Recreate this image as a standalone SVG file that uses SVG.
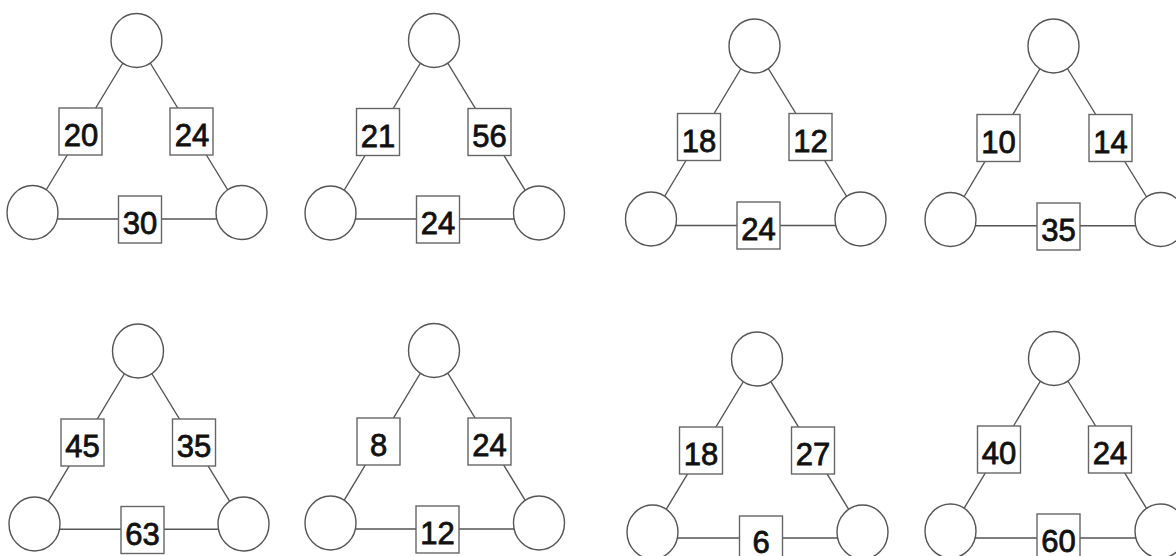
<svg xmlns="http://www.w3.org/2000/svg" width="1176" height="556" viewBox="0 0 1176 556">
<style>
.c{fill:#fff;stroke:#555;stroke-width:1.4}
.b{fill:#fff;stroke:#666;stroke-width:1.4}
.e{stroke:#555;stroke-width:1.4;fill:none}
.t{font-family:"Liberation Sans",Arial,sans-serif;font-size:31px;fill:#111;stroke:#111;stroke-width:0.8;text-anchor:middle}
</style>
<rect width="1176" height="556" fill="#fff"/>
<g id="connectors">
<path class="e" d="M136.5 40.5L32.5 212.5M136.5 40.5L241.5 212.5M32.5 219H241.5"/>
<path class="e" d="M434 40.5L330.5 213M434 40.5L539 213M330.5 219H539"/>
<path class="e" d="M754.5 46L651 219M754.5 46L860.5 219M651 225.5H860.5"/>
<path class="e" d="M1053.5 46L950.5 219.5M1053.5 46L1160.5 219.5M950.5 225.7H1160.5"/>
<path class="e" d="M138 351L34.5 524M138 351L243.5 524M34.5 529.3H243.5"/>
<path class="e" d="M434 350.5L330.5 523M434 350.5L539 523M330.5 529H539"/>
<path class="e" d="M757 359L652.5 532M757 359L862.5 532M652.5 538H862.5"/>
<path class="e" d="M1054 358.5L950.5 531M1054 358.5L1160.5 531M950.5 538H1160.5"/>
</g>
<g id="t1">
<ellipse class="c" cx="136.5" cy="40.5" rx="25.5" ry="27"/>
<ellipse class="c" cx="32.5" cy="212.5" rx="25.5" ry="27"/>
<ellipse class="c" cx="241.5" cy="212.5" rx="25.5" ry="27"/>
<rect class="b" x="59" y="108" width="43" height="47"/><text class="t" x="81" y="146">20</text>
<rect class="b" x="170" y="108" width="43" height="47"/><text class="t" x="192" y="146">24</text>
<rect class="b" x="118.5" y="196" width="43" height="47"/><text class="t" x="140" y="234">30</text>
</g>
<g id="t2">
<ellipse class="c" cx="434" cy="40.5" rx="25.5" ry="27"/>
<ellipse class="c" cx="330.5" cy="213" rx="25.5" ry="27"/>
<ellipse class="c" cx="539" cy="213" rx="25.5" ry="27"/>
<rect class="b" x="356.5" y="108.5" width="43" height="47"/><text class="t" x="378" y="146.5">21</text>
<rect class="b" x="468" y="108.5" width="43" height="47"/><text class="t" x="489.5" y="146.5">56</text>
<rect class="b" x="416.5" y="196" width="43" height="47"/><text class="t" x="438" y="234">24</text>
</g>
<g id="t3">
<ellipse class="c" cx="754.5" cy="46" rx="25.5" ry="27"/>
<ellipse class="c" cx="651" cy="219" rx="25.5" ry="27"/>
<ellipse class="c" cx="860.5" cy="219" rx="25.5" ry="27"/>
<rect class="b" x="677.5" y="113.5" width="43" height="47"/><text class="t" x="699" y="151.5">18</text>
<rect class="b" x="789" y="113.5" width="43" height="47"/><text class="t" x="810.5" y="151.5">12</text>
<rect class="b" x="737" y="202" width="43" height="47"/><text class="t" x="758.5" y="240">24</text>
</g>
<g id="t4">
<ellipse class="c" cx="1053.5" cy="46" rx="25.5" ry="27"/>
<ellipse class="c" cx="950.5" cy="219.5" rx="25.5" ry="27"/>
<ellipse class="c" cx="1160.5" cy="219.5" rx="25.5" ry="27"/>
<rect class="b" x="977" y="114.5" width="43" height="47"/><text class="t" x="998.5" y="152.5">10</text>
<rect class="b" x="1089" y="114.5" width="43" height="47"/><text class="t" x="1110.5" y="152.5">14</text>
<rect class="b" x="1037" y="203" width="43" height="47"/><text class="t" x="1058.5" y="241">35</text>
</g>
<g id="t5">
<ellipse class="c" cx="138" cy="351" rx="25.5" ry="27"/>
<ellipse class="c" cx="34.5" cy="524" rx="25.5" ry="27"/>
<ellipse class="c" cx="243.5" cy="524" rx="25.5" ry="27"/>
<rect class="b" x="61" y="419" width="43" height="47"/><text class="t" x="82.5" y="457">45</text>
<rect class="b" x="172.5" y="419" width="43" height="47"/><text class="t" x="194" y="457">35</text>
<rect class="b" x="121" y="506.5" width="43" height="47"/><text class="t" x="142.5" y="544.5">63</text>
</g>
<g id="t6">
<ellipse class="c" cx="434" cy="350.5" rx="25.5" ry="27"/>
<ellipse class="c" cx="330.5" cy="523" rx="25.5" ry="27"/>
<ellipse class="c" cx="539" cy="523" rx="25.5" ry="27"/>
<rect class="b" x="357" y="418" width="43" height="47"/><text class="t" x="378.5" y="456">8</text>
<rect class="b" x="468" y="418" width="43" height="47"/><text class="t" x="489.5" y="456">24</text>
<rect class="b" x="416" y="506" width="43" height="47"/><text class="t" x="437.5" y="544">12</text>
</g>
<g id="t7">
<ellipse class="c" cx="757" cy="359" rx="25.5" ry="27"/>
<ellipse class="c" cx="652.5" cy="532" rx="25.5" ry="27"/>
<ellipse class="c" cx="862.5" cy="532" rx="25.5" ry="27"/>
<rect class="b" x="679.5" y="427" width="43" height="47"/><text class="t" x="701" y="465">18</text>
<rect class="b" x="791.5" y="427" width="43" height="47"/><text class="t" x="813" y="465">27</text>
<rect class="b" x="739.5" y="516" width="43" height="47"/><text class="t" x="761" y="553">6</text>
</g>
<g id="t8">
<ellipse class="c" cx="1054" cy="358.5" rx="25.5" ry="27"/>
<ellipse class="c" cx="950.5" cy="531" rx="25.5" ry="27"/>
<ellipse class="c" cx="1160.5" cy="531" rx="25.5" ry="27"/>
<rect class="b" x="977.5" y="426" width="43" height="47"/><text class="t" x="999" y="464">40</text>
<rect class="b" x="1088.5" y="426" width="43" height="47"/><text class="t" x="1110" y="464">24</text>
<rect class="b" x="1037" y="514" width="43" height="47"/><text class="t" x="1058.5" y="552">60</text>
</g>
</svg>
